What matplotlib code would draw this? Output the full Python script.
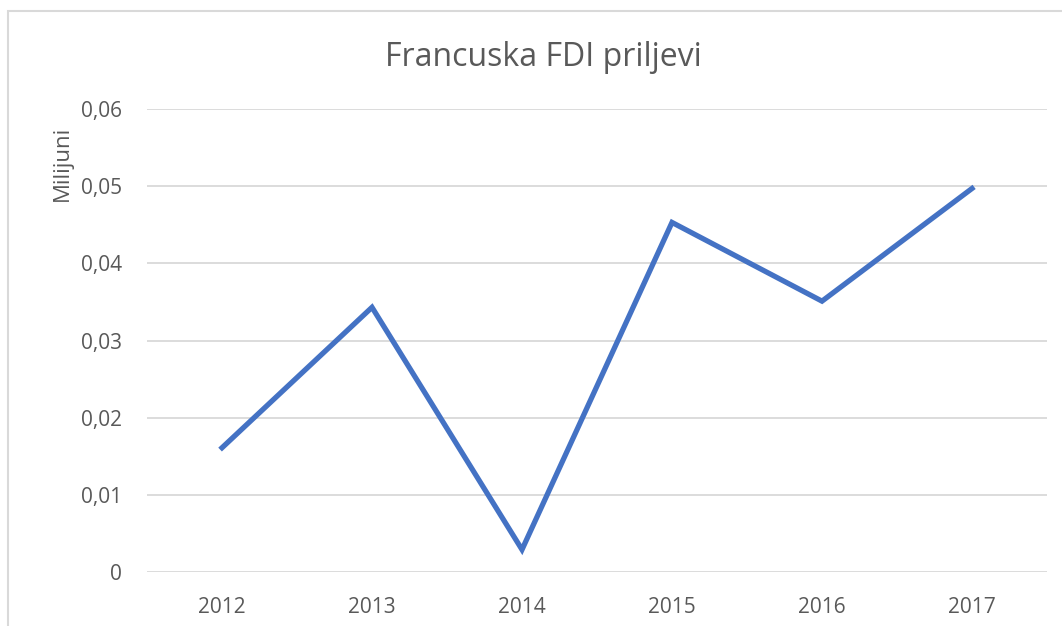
import matplotlib.pyplot as plt
from matplotlib.patches import Rectangle

plt.rcParams['font.family'] = ['Open Sans', 'DejaVu Sans']

years = ["2012", "2013", "2014", "2015", "2016", "2017"]
values = [0.0161, 0.0343, 0.0029, 0.0453, 0.0351, 0.0497]
yticks = [0, 0.01, 0.02, 0.03, 0.04, 0.05, 0.06]
ytick_labels = ["0", "0,01", "0,02", "0,03", "0,04", "0,05", "0,06"]

W, H = 1062, 626
fig = plt.figure(figsize=(W / 100, H / 100), dpi=100)
fig.patches.append(Rectangle((8 / W, -0.1), 1.2, 1 - 11 / H + 0.1,
                             transform=fig.transFigure, fill=False,
                             edgecolor="#d9d9d9", linewidth=1.5))

ax = fig.add_axes([147 / W, 1 - 572 / H, 900 / W, (572 - 109) / H])
x = range(len(years))
ax.plot(x, values, color="#4472C4", linewidth=3.8, solid_joinstyle="miter")
ax.set_xlim(-0.5, len(years) - 0.5)
ax.set_ylim(0, 0.06)
ax.set_xticks(list(x))
ax.set_xticklabels(years)
ax.set_yticks(yticks)
ax.set_yticklabels(ytick_labels)
ax.grid(axis="y", color="#d9d9d9", linewidth=1.3)
ax.set_axisbelow(True)
for s in ax.spines.values():
    s.set_visible(False)
ax.tick_params(length=0, colors="#595959", labelsize=15)
ax.tick_params(axis="x", pad=18)
ax.tick_params(axis="y", pad=18)

fig.text(62 / W, 1 - 163 / H, "Milijuni", fontsize=16, color="#595959",
         rotation=90, ha="center", va="center")
fig.text(543 / W, 1 - 58 / H, "Francuska FDI priljevi", fontsize=23,
         color="#595959", ha="center", va="center")

fig.savefig("out.png", dpi=100)
